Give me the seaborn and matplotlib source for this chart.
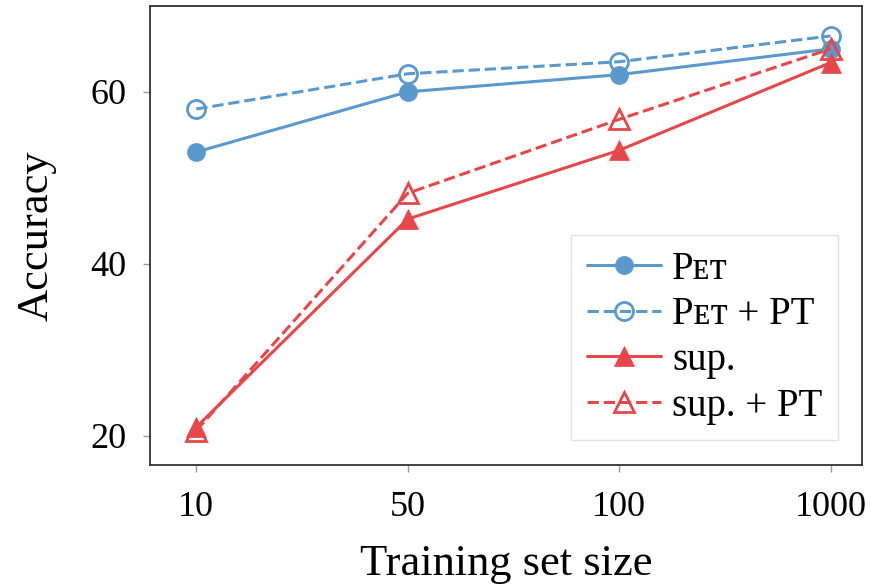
import matplotlib
matplotlib.use('Agg')
import matplotlib.pyplot as plt
import seaborn as sns
import pandas as pd

# data
sizes = ['10', '50', '100', '1000']
pet = [53.0, 60.0, 62.0, 65.0]
pet_pt = [58.0, 62.1, 63.5, 66.5]
sup = [21.0, 45.2, 53.2, 63.4]
sup_pt = [20.6, 48.2, 56.8, 65.0]

blue = '#5B99CD'
red = '#E6474A'

sns.set_theme(style='ticks')
plt.rcParams['font.family'] = ['Liberation Serif', 'DejaVu Serif']
plt.rcParams['text.color'] = 'black'
plt.rcParams['axes.labelcolor'] = 'black'
plt.rcParams['xtick.labelcolor'] = 'black'
plt.rcParams['ytick.labelcolor'] = 'black'

fig, ax = plt.subplots(figsize=(8.71, 5.87), dpi=100)

series = [
    ('P\u1d07\u1d1b', pet, blue, '-', 'o', True, 13),
    ('P\u1d07\u1d1b + PT', pet_pt, blue, '--', 'o', False, 13),
    ('sup.', sup, red, '-', '^', True, 14),
    ('sup. + PT', sup_pt, red, '--', '^', False, 14),
]

for label, vals, col, ls, mk, filled, ms in series:
    df = pd.DataFrame({'size': sizes, 'acc': vals})
    sns.lineplot(data=df, x='size', y='acc', ax=ax, color=col, linestyle=ls,
                 marker=mk, markersize=ms, linewidth=2.2, label=label,
                 markerfacecolor=col if filled else 'none',
                 markeredgecolor=col, markeredgewidth=2.0 if not filled else 0.5)

ax.set_xlim(-0.22, 3.15)
ax.set_ylim(16.6, 70)
ax.set_yticks([20, 40, 60])
ax.set_xlabel('Training set size', fontsize=32, labelpad=14)
ax.set_ylabel('Accuracy', fontsize=32, labelpad=24)
ax.tick_params(axis='both', labelsize=26, color='#999999', length=5, width=1)
ax.tick_params(axis='y', pad=12)
ax.tick_params(axis='x', pad=14)
for s in ax.spines.values():
    s.set_visible(True)
    s.set_color('#333333')
    s.set_linewidth(1.3)

leg = ax.legend(loc='lower right', fontsize=28, frameon=True, fancybox=False,
                edgecolor='#dddddd', handlelength=1.9, handletextpad=0.3,
                borderpad=0.4, labelspacing=0.22, borderaxespad=0,
                bbox_to_anchor=(0.966, 0.054))
leg.get_frame().set_linewidth(1.0)

plt.subplots_adjust(left=0.172, right=0.99, top=0.99, bottom=0.208)
plt.savefig('out.png', dpi=100)
